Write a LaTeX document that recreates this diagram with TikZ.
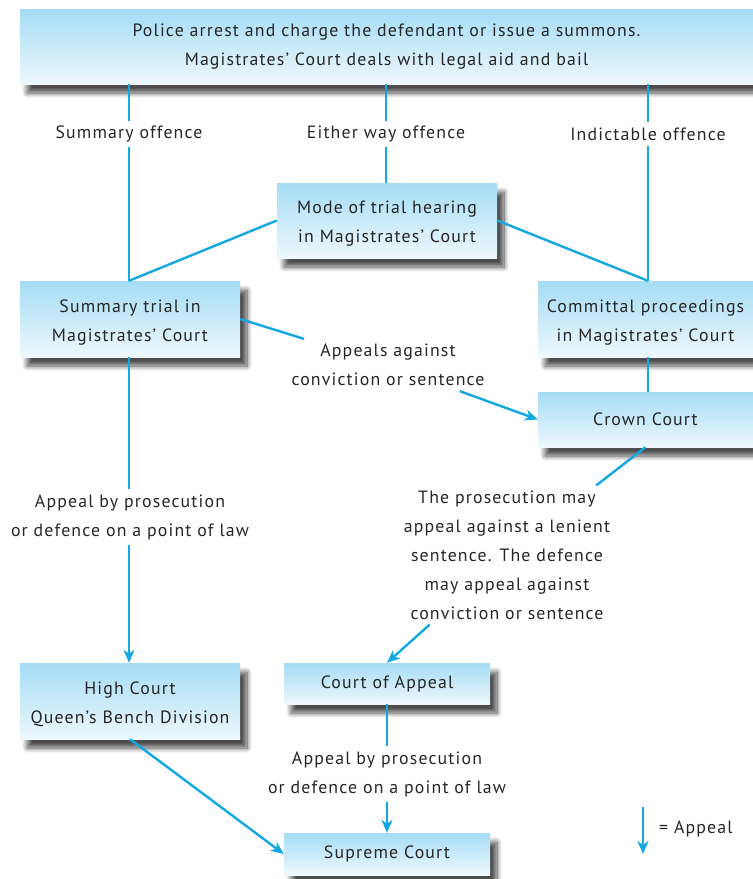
\documentclass[tikz,border=0pt]{standalone}
\usepackage{fontspec}
\setmainfont[LetterSpace=6.5]{PT Sans}
\usetikzlibrary{shadows.blur,arrows.meta}
\definecolor{boxtop}{HTML}{A5DCF5}
\definecolor{boxbot}{HTML}{EEF8FD}
\definecolor{linkblue}{HTML}{14A8E3}
\definecolor{ink}{HTML}{262626}
% taller first line, to set two-line texts a little lower
\newcommand\firststrut{\rule{0pt}{19pt}}

\begin{document}
\begin{tikzpicture}[x=1pt,y=-1pt,
  font=\fontsize{17.8}{29}\selectfont, text=ink,
  court/.style={rectangle, inner sep=0pt, align=center,
    top color=boxtop, bottom color=boxbot, draw=none,
    blur shadow={shadow xshift=7pt, shadow yshift=-9pt,
      shadow blur radius=5pt, shadow blur steps=12, shadow opacity=70}},
  note/.style={align=center, inner sep=5pt},
  conn/.style={draw=linkblue, line width=2.4pt},
  appeal/.style={conn, -{Stealth[length=13pt,width=11pt,inset=4pt]}}
]
\useasboundingbox (0,0) rectangle (753,879);

% courts and hearings
\node[court, minimum width=733pt, minimum height=75pt] (police) at (386.5,46.5)
  {Police arrest and charge the defendant or issue a summons.\\Magistrates’ Court deals with legal aid and bail};
\node[court, minimum width=220pt, minimum height=75pt] (mode) at (387,220.5)
  {\firststrut Mode of trial hearing\\in Magistrates’ Court};
\node[court, minimum width=220pt, minimum height=76pt] (summ) at (130,319)
  {\firststrut Summary trial in\\Magistrates’ Court};
\node[court, minimum width=215pt, minimum height=76pt] (comm) at (645.5,319)
  {\firststrut Committal proceedings\\in Magistrates’ Court};
\node[court, minimum width=215pt, minimum height=55pt] (crown) at (645.5,419.5)
  {Crown Court};
\node[court, minimum width=220pt, minimum height=76pt] (high) at (130,701)
  {\firststrut High Court\\Queen’s Bench Division};
\node[court, minimum width=206pt, minimum height=41pt] (coa) at (387,683.5)
  {Court of Appeal};
\node[court, minimum width=206pt, minimum height=42pt] (sup) at (387,854)
  {Supreme Court};

% route labels
\node[note] (so) at (129,134) {Summary offence};
\node[note] (eo) at (386,134) {Either way offence};
\node[note] (io) at (648,134) {Indictable offence};
\node[note] (appA) at (388,365) {Appeals against\\conviction or sentence};
\node[note] (appB) at (130,517) {Appeal by prosecution\\or defence on a point of law};
\node[note] (pros) at (507,555) {The prosecution may\\appeal against a lenient\\sentence. The defence\\may appeal against\\conviction or sentence};
\node[note] (appC) at (387,774) {Appeal by prosecution\\or defence on a point of law};

% routes from the police charge
\draw[conn] (police.south -| so) -- (so.north);
\draw[conn] (so.south) -- (summ.north -| so);
\draw[conn] (police.south -| eo) -- (eo.north);
\draw[conn] (eo.south) -- (mode.north -| eo);
\draw[conn] (police.south -| io) -- (io.north);
\draw[conn] (io.south) -- (comm.north -| io);
\draw[conn] (mode.west) -- (summ.north -| so);
\draw[conn] (mode.east) -- (comm.north -| io);
\draw[conn] (comm.south -| io) -- (crown.north -| io);

% appeals
\draw[conn] (summ.east) -- (appA);
\draw[appeal] (appA) -- (crown.west);
\draw[conn] (summ.south -| so) -- (appB.north -| so);
\draw[appeal] (appB.south -| so) -- (high.north -| so);
\draw[conn] (crown.south) -- (pros);
\draw[appeal] (pros) -- (coa.north);
\draw[conn] (coa.south) -- (appC.north -| coa);
\draw[appeal] (appC.south -| coa) -- (sup.north);
\draw[appeal] (high.south) -- (sup.west);

% key
\coordinate (keytop) at (643,807);
\coordinate (keybot) at (643,854);
\draw[appeal] (keytop) -- (keybot);
\node[anchor=west, inner sep=0pt] (keytxt) at (659,829) {= Appeal};
\end{tikzpicture}
\end{document}
